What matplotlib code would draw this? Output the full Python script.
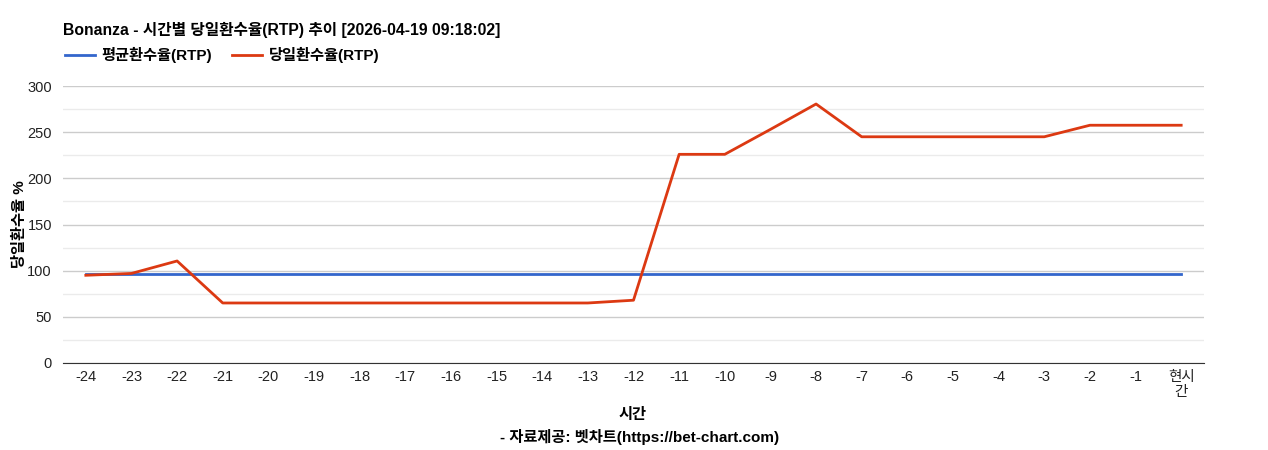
import numpy as np
import matplotlib.pyplot as plt

plt.rcParams['font.family'] = ['Liberation Sans', 'Noto Sans CJK KR', 'DejaVu Sans']

# hours before now
hours = ['-24', '-23', '-22', '-21', '-20', '-19', '-18', '-17', '-16', '-15', '-14', '-13',
         '-12', '-11', '-10', '-9', '-8', '-7', '-6', '-5', '-4', '-3', '-2', '-1', '현시\n간']
avg_rtp = [96] * 25
day_rtp = [95, 97, 110.5, 65, 65, 65, 65, 65, 65, 65, 65, 65,
           68, 226, 226, 253, 280.5, 245, 245, 245, 245, 245, 257.5, 257.5, 257.5]

blue = '#3366CC'
red = '#DC3912'

fig = plt.figure(figsize=(12.68, 4.5), dpi=100)
ax = fig.add_axes([63 / 1268, 87 / 450, (1204 - 63) / 1268, 277 / 450])

x = np.arange(len(hours))
l1, = ax.plot(x, avg_rtp, color=blue, lw=2, label='평균환수율(RTP)')
l2, = ax.plot(x, day_rtp, color=red, lw=2, label='당일환수율(RTP)')

ax.set_xlim(-0.5, len(hours) - 0.5)
ax.set_ylim(0, 300)
ax.set_yticks(np.arange(0, 301, 50))
ax.set_yticks(np.arange(25, 300, 50), minor=True)
ax.set_xticks(x)
ax.set_xticklabels(hours, fontsize=10.5, color='#222222', linespacing=1.1)
ax.tick_params(axis='y', labelsize=10.5, colors='#222222', length=0, pad=8)
ax.tick_params(axis='y', which='minor', length=0)
ax.tick_params(axis='x', length=0, pad=5)
ax.grid(axis='y', which='major', color='#cccccc', lw=1)
ax.grid(axis='y', which='minor', color='#ebebeb', lw=1)
ax.set_axisbelow(True)
for s in ['top', 'right', 'left']:
    ax.spines[s].set_visible(False)
ax.spines['bottom'].set_color('#333333')

ax.set_ylabel('당일환수율 %', fontsize=11, fontweight='bold', labelpad=0)

fig.text(633 / 1268, 1 - 415 / 450, '시간', fontsize=11, fontweight='bold',
         ha='center', va='center')
fig.text(640 / 1268, 1 - 437 / 450, '- 자료제공: 벳차트(https://bet-chart.com)', fontsize=11,
         fontweight='bold', ha='center', va='center')

fig.text(63 / 1268, 1 - 30 / 450, 'Bonanza - 시간별 당일환수율(RTP) 추이 [2026-04-19 09:18:02]',
         fontsize=11.3, fontweight='bold', va='center', ha='left')
fig.legend(handles=[l1, l2], loc='center left', bbox_to_anchor=(51 / 1268, 1 - 55 / 450),
           ncol=2, frameon=False, prop={'weight': 'bold', 'size': 11},
           handlelength=2, columnspacing=1.3, handletextpad=0.4)

fig.savefig('out.png', dpi=100)
